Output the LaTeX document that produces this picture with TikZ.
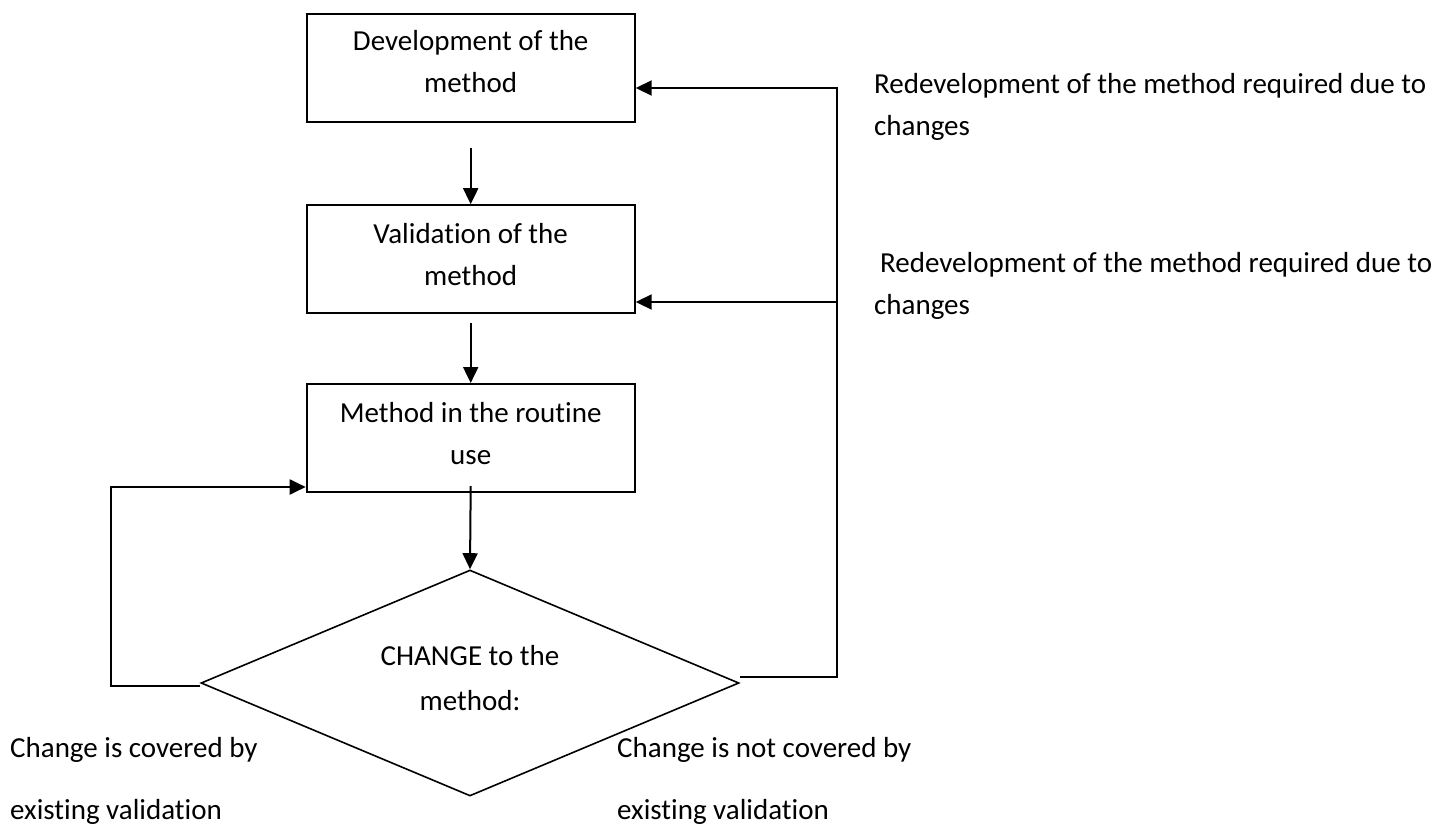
\documentclass[tikz,border=0pt]{standalone}
\usepackage{fontspec}
\setmainfont{Carlito}[Ligatures=NoCommon]
\usetikzlibrary{arrows.meta,shapes.geometric,calc}
\begin{document}
\begin{tikzpicture}[x=1pt,y=-1pt,
  every node/.style={font=\fontsize{29}{42}\selectfont},
  box/.style={draw,line width=2pt,minimum width=328pt,minimum height=108pt,align=center,inner sep=0pt},
  dec/.style={draw,diamond,line width=1.6pt,aspect=2.38,minimum width=538pt,minimum height=226pt,inner sep=0pt},
  conn/.style={line width=2pt,line join=miter},
  arr/.style={conn,-{Triangle[length=16pt,width=15pt]}},
  lbl/.style={anchor=west,align=left,inner sep=0pt}]
\useasboundingbox (0,0) rectangle (1444,825);
\node[box] (b1) at (470.7,68.2) {Development of the\\method\rule[-14pt]{0pt}{1pt}};
\node[box] (b2) at (470.7,259.2) {Validation of the\\method\rule[-10pt]{0pt}{1pt}};
\node[box] (b3) at (470.7,438) {Method in the routine\\use\rule[-10pt]{0pt}{1pt}};
\node[dec] (d) at (470,683) {};
\node[align=center,inner sep=0pt,font=\fontsize{29}{45}\selectfont] (dt) at (470,678) {CHANGE to the\\method:};
\draw[arr] ($(b1.south)+(0,25)$) -- (b2.north);
\draw[arr] ($(b2.south)+(0,9)$) -- (b3.north);
\draw[arr] ($(b3.south)+(0,-7)$) -- (d.north);
\coordinate (rb) at (837,677);
\coordinate (r1) at (837,88);
\coordinate (r2) at (837,302);
\draw[arr] (d.east |- rb) -- (rb) -- (r1) -- (b1.east |- r1);
\draw[arr] (r2) -- (b2.east |- r2);
\coordinate (l1) at (111,686);
\coordinate (l2) at (111,487);
\draw[arr] (d.west |- l1) -- (l1) -- (l2) -- (b3.west |- l2);
\node[lbl] (t1) at (874,107) {Redevelopment of the method required due to\\changes};
\node[lbl] (t2) at (874,286) {\hspace*{6pt}Redevelopment of the method required due to\\changes};
\node[lbl] (c1) at (10,750) {Change is covered by};
\node[lbl] (c2) at (10,812) {existing validation};
\node[lbl] (c3) at (617,750) {Change is not covered by};
\node[lbl] (c4) at (617,812) {existing validation};
\end{tikzpicture}
\end{document}
